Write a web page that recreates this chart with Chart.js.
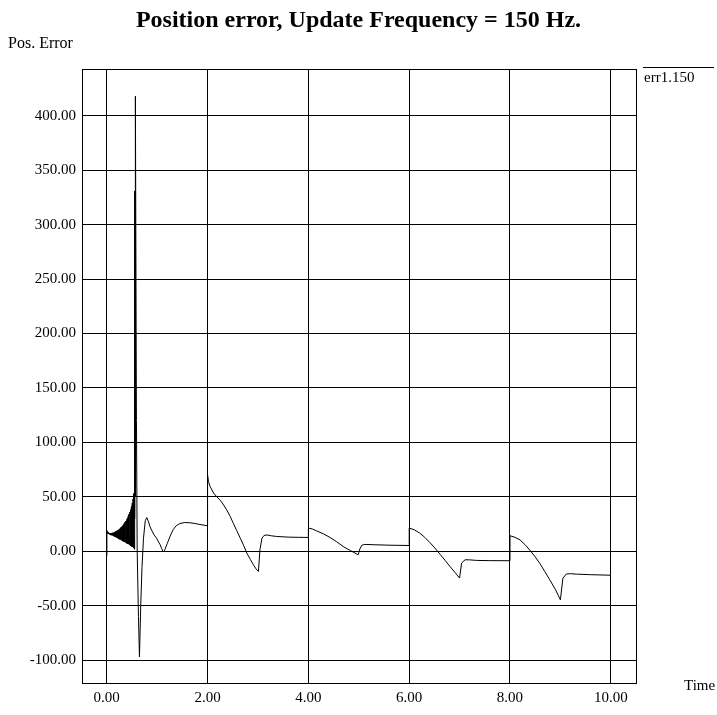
<!DOCTYPE html>
<html>
<head>
<meta charset="utf-8">
<script src="https://cdn.jsdelivr.net/npm/chart.js@4/dist/chart.umd.min.js"></script>
<style>
  html, body { margin: 0; padding: 0; background: #fff; }
  #wrap { width: 717px; height: 715px; }
</style>
</head>
<body>
<div id="wrap"><canvas id="c" width="717" height="715"></canvas></div>
<script>
// ---- Data ----
const chartTitle = "Position error, Update Frequency = 150 Hz.";
const yAxisTitle = "Pos. Error";
const xAxisTitle = "Time";
const seriesName = "err1.150";

// Start of run + fast oscillation before the large spike
const timeStart = [0.000, 0.004,
  0.010,0.018,0.026,0.034,0.042,0.050,0.058,0.066,0.074,0.082,
  0.090,0.098,0.106,0.114,0.122,0.130,0.138,0.146,0.154,0.162,
  0.170,0.178,0.186,0.194,0.202,0.210,0.218,0.226,0.234,0.242,
  0.250,0.258,0.266,0.274,0.282,0.290,0.298,0.306,0.314,0.322,
  0.330,0.338,0.346,0.354,0.362,0.370,0.378,0.386,0.394,0.402,
  0.410,0.418,0.426,0.434,0.442,0.450,0.458,0.466,0.474,0.482,
  0.490,0.498,0.506,0.514,0.522,0.530,0.538,0.546];
const errStart = [-4, 19,
  18.0,16.5,17.2,16.0,16.8,15.6,16.6,15.2,16.5,15.0,
  16.6,14.8,16.8,14.5,17.0,14.2,17.2,13.8,17.6,13.5,
  18.0,13.0,18.4,12.6,18.8,12.2,19.4,11.8,19.8,11.4,
  20.4,11.0,21.0,10.6,21.8,10.2,22.6,9.8,23.4,9.4,
  24.4,9.0,25.4,8.6,26.6,8.2,27.8,7.8,29.2,7.4,
  30.6,7.0,32.2,6.5,34.0,6.0,36.0,5.5,38.4,5.0,
  41.0,4.5,44.0,4.0,48.0,3.2,53.0,2.0];

// Spike, undershoot and the later step responses
const timeRest = [0.550,0.553,0.556,0.559,0.563,0.566,0.572,0.590,0.605,0.630,
  0.650,0.675,0.700,0.730,0.765,0.795,0.830,0.860,0.890,0.940,
  0.990,1.030,1.060,1.090,1.120,1.150,1.200,1.260,1.320,1.380,
  1.450,1.550,1.650,1.750,1.850,1.950,2.000,2.001,2.020,2.050,
  2.120,2.180,2.250,2.320,2.380,2.450,2.510,2.580,2.650,2.720,
  2.780,2.850,2.910,2.960,3.010,3.040,3.080,3.120,3.180,3.270,
  3.370,3.600,3.800,4.000,4.001,4.080,4.160,4.300,4.430,4.560,
  4.690,4.840,4.990,5.020,5.060,5.120,5.300,5.600,6.000,6.001,
  6.100,6.210,6.310,6.410,6.510,6.610,6.710,6.810,6.910,7.000,
  7.040,7.110,7.200,7.340,7.600,8.000,8.001,8.100,8.200,8.300,
  8.390,8.490,8.590,8.690,8.790,8.900,9.000,9.050,9.120,9.200,
  9.320,9.600,10.000];
const errRest = [59,4,331,30,300,50,418,120,0,-60,
  -97,-50,-15,12,28,31,27,22.5,19.5,15,
  12,8.5,6,2.5,-0.5,1,7,14,20,23.5,
  25.5,26.4,26.2,25.5,24.6,23.8,23.5,70,64,59.6,
  53.5,50.2,47,42.5,38,32,25.8,19,12,5,
  -1.7,-7.5,-12.4,-16,-18.5,1.4,12,14.5,15,14.2,
  13.6,13,12.8,12.7,21.3,20.5,18.8,16,12.7,8.8,
  4.4,0.5,-3.2,2,5.5,6.3,6,5.6,5.3,21.3,
  19.8,16.7,12.8,8.1,3,-2.6,-8.2,-14,-19.5,-24.6,
  -10.8,-7.8,-7.9,-8.4,-8.6,-8.7,14.3,12.8,10.4,6,
  1.2,-4.5,-11,-18.5,-26.3,-35,-44.6,-24.7,-20.8,-20.6,
  -21,-21.5,-22];

const xTickStep = 2;   // 0.00 ... 10.00
const yTickStep = 50;  // -100.00 ... 400.00

// ---- Build points ----
const times = timeStart.concat(timeRest);
const errors = errStart.concat(errRest);
const points = times.map((t, i) => ({ x: t, y: errors[i] }));

const SERIF = "'Liberation Serif', 'DejaVu Serif', serif";

const framePlugin = {
  id: 'frame',
  afterDraw(chart) {
    const ctx = chart.ctx;
    const a = chart.chartArea;
    ctx.save();
    // full plot frame
    ctx.strokeStyle = '#000';
    ctx.lineWidth = 1;
    ctx.strokeRect(Math.round(a.left) + 0.5, Math.round(a.top) + 0.5,
                   Math.round(a.right - a.left), Math.round(a.bottom - a.top));
    // axis titles
    ctx.fillStyle = '#000';
    ctx.textBaseline = 'alphabetic';
    ctx.textAlign = 'left';
    ctx.font = "16px " + SERIF;
    ctx.fillText(yAxisTitle, 8, 48);
    ctx.font = "15px " + SERIF;
    ctx.fillText(xAxisTitle, 684, 690);
    // legend: line sample above series name
    ctx.beginPath();
    ctx.moveTo(643, 67.5);
    ctx.lineTo(714, 67.5);
    ctx.stroke();
    ctx.fillText(chart.data.datasets[0].label, 644, 82);
    ctx.restore();
  }
};

new Chart(document.getElementById('c'), {
  type: 'scatter',
  data: {
    datasets: [{
      label: seriesName,
      data: points,
      showLine: true,
      borderColor: '#000',
      backgroundColor: '#000',
      borderWidth: 1,
      pointRadius: 0,
      tension: 0,
      fill: false
    }]
  },
  options: {
    responsive: false,
    animation: false,
    devicePixelRatio: 1,
    layout: { padding: { left: 0, right: 0, top: 0, bottom: 0 } },
    plugins: {
      legend: { display: false },
      tooltip: { enabled: false },
      title: {
        display: true,
        text: chartTitle,
        color: '#000',
        font: { family: SERIF, size: 24, weight: 'bold', lineHeight: 1.2 },
        padding: { top: 6, bottom: 34.2 }
      }
    },
    scales: {
      x: {
        type: 'linear',
        min: -0.49,
        max: 10.5,
        border: { display: false },
        grid: { color: '#000', lineWidth: 1, drawTicks: false },
        ticks: {
          stepSize: xTickStep,
          includeBounds: false,
          color: '#000',
          padding: 6,
          maxRotation: 0,
          font: { family: SERIF, size: 15 },
          callback: v => Number(v).toFixed(2)
        },
        afterFit: s => { s.height = 32; }
      },
      y: {
        type: 'linear',
        min: -121,
        max: 443,
        border: { display: false },
        grid: { color: '#000', lineWidth: 1, drawTicks: false },
        ticks: {
          stepSize: yTickStep,
          includeBounds: false,
          color: '#000',
          padding: 6,
          font: { family: SERIF, size: 15 },
          callback: v => Number(v).toFixed(2)
        },
        afterFit: s => { s.width = 82; }
      },
      yRightSpace: {
        type: 'linear',
        position: 'right',
        display: true,
        min: 0,
        max: 1,
        border: { display: false },
        grid: { display: false, drawTicks: false },
        ticks: { display: false },
        afterFit: s => { s.width = 81; }
      }
    }
  },
  plugins: [framePlugin]
});
</script>
</body>
</html>
